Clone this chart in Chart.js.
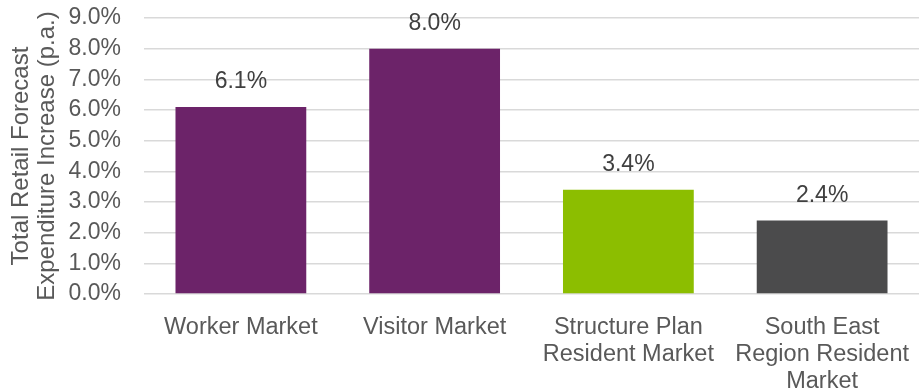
<!DOCTYPE html>
<html>
<head>
<meta charset="utf-8">
<script src="https://cdn.jsdelivr.net/npm/chart.js@4/dist/chart.umd.min.js"></script>
<style>
  html, body { margin: 0; padding: 0; background: #ffffff; }
  #wrap { width: 919px; height: 390px; position: relative; }
</style>
</head>
<body>
<div id="wrap"><canvas id="chart"></canvas></div>
<script>
const categories = [
  ['Worker Market'],
  ['Visitor Market'],
  ['Structure Plan', 'Resident Market'],
  ['South East', 'Region Resident', 'Market'],
];
const values = [6.1, 8.0, 3.4, 2.4];
const barColors = ['#6C2369', '#6C2369', '#8CBE00', '#4B4B4C'];
const axisTitle = ['Total Retail Forecast', 'Expenditure Increase (p.a.)'];

const TEXT = '#595959';
const FONT = 'Liberation Sans, Arial, sans-serif';

// value labels above bars
const barLabels = {
  id: 'barLabels',
  afterDatasetsDraw(chart) {
    const ctx = chart.ctx;
    const meta = chart.getDatasetMeta(0);
    ctx.save();
    ctx.font = `23px ${FONT}`;
    ctx.fillStyle = '#404040';
    ctx.textAlign = 'center';
    ctx.textBaseline = 'middle';
    meta.data.forEach((bar, i) => {
      ctx.fillText(values[i].toFixed(1) + '%', bar.x, bar.y - 25);
    });
    ctx.restore();
  }
};

new Chart(document.getElementById('chart'), {
  type: 'bar',
  plugins: [barLabels],
  data: {
    labels: categories,
    datasets: [{
      data: values,
      backgroundColor: barColors,
      hoverBackgroundColor: barColors,
      categoryPercentage: 0.675,
      barPercentage: 1,
    }]
  },
  options: {
    responsive: true,
    maintainAspectRatio: false,
    animation: false,
    layout: {
      padding: {top: 18, right: 0, bottom: 0, left: 0}
    },
    plugins: {
      legend: {display: false},
      tooltip: {enabled: false},
    },
    scales: {
      y: {
        min: 0,
        max: 9,
        ticks: {
          stepSize: 1,
          autoSkip: false,
          color: TEXT,
          padding: 23,
          font: {family: FONT, size: 23},
          callback: (v) => v.toFixed(1) + '%',
        },
        grid: {
          color: '#D9D9D9',
          lineWidth: 1.5,
          drawTicks: false,
        },
        border: {display: false},
        title: {
          display: true,
          text: axisTitle,
          color: TEXT,
          font: {family: FONT, size: 24, lineHeight: 1.08},
          padding: {top: 8, bottom: 0},
        },
        afterFit: (scale) => {
          scale.width = 144;
          scale.paddingTop = 0;
          scale.paddingBottom = 0;
        },
      },
      x: {
        ticks: {
          color: TEXT,
          maxRotation: 0,
          autoSkip: false,
          padding: 12,
          font: {family: FONT, size: 23.5, lineHeight: 1.15},
        },
        grid: {display: false},
        border: {display: false},
        afterFit: (scale) => {
          scale.height = 96;
          scale.paddingLeft = 0;
          scale.paddingRight = 0;
        },
      },
    }
  }
});
</script>
</body>
</html>
